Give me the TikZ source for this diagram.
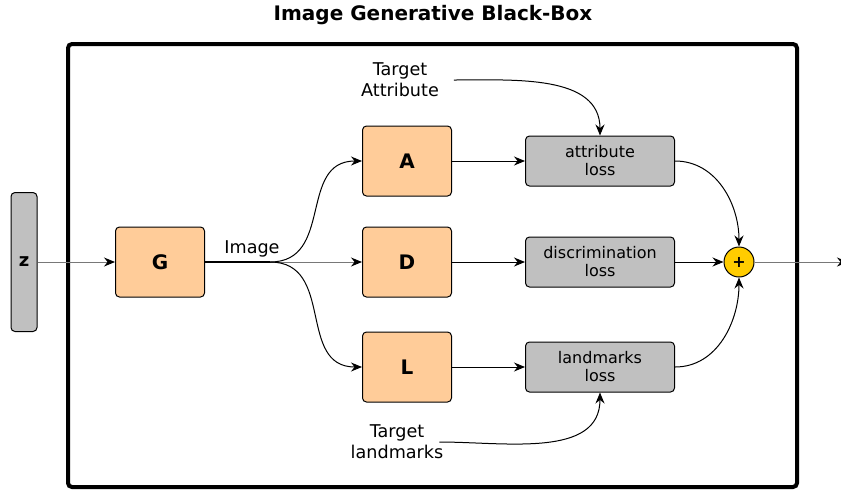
\documentclass[tikz,border=0pt]{standalone}
\usepackage{fontspec}
\setmainfont{DejaVu Sans}
\usepackage{xcolor}
\definecolor{genfill}{RGB}{255, 204, 153}
\definecolor{lossfill}{RGB}{192, 192, 192}
\definecolor{sumfill}{RGB}{255, 204, 0}
\definecolor{wire}{RGB}{120, 120, 120}
\usepackage{tikz}
\usetikzlibrary{arrows.meta}

\begin{document}
\begin{tikzpicture}[x=0.5pt, y=-0.5pt,
    >={Stealth[length=5.5pt, width=4.5pt, color=black]},
    genbox/.style={draw, line width=0.5pt, fill=genfill, rounded corners=2pt, minimum width=44.5pt, minimum height=35pt, font=\fontsize{10}{12}\selectfont\bfseries},
    lossbox/.style={draw, line width=0.5pt, fill=lossfill, rounded corners=2pt, minimum width=74.5pt, minimum height=25pt, inner sep=1pt, align=center, font=\fontsize{8}{9}\selectfont},
    lbl/.style={align=center, font=\fontsize{8.8}{10.5}\selectfont},
    link/.style={->, line width=0.5pt}]
    \useasboundingbox (0, 0) rectangle (841, 489);

    % Title and frame
    \node[font=\fontsize{10}{12}\selectfont\bfseries] (title) at (433, 15) {Image Generative Black-Box};
    \draw[line width=2pt, rounded corners=2pt] (68, 44) rectangle (797, 487);

    % Input
    \node[draw, line width=0.5pt, fill=lossfill, rounded corners=2pt, minimum width=13pt, minimum height=69.5pt, inner sep=0pt, font=\fontsize{9}{11}\selectfont\bfseries] (z) at (24, 262) {z};

    % Networks
    \node[genbox] (G) at (160, 262) {G};
    \node[genbox] (A) at (407, 161) {A};
    \node[genbox] (D) at (407, 262) {D};
    \node[genbox] (L) at (407, 367) {L};

    % Losses
    \node[lossbox] (al) at (600, 161) {attribute\\loss};
    \node[lossbox] (dl) at (600, 262) {discrimination\\loss};
    \node[lossbox] (ll) at (600, 367) {landmarks\\loss};
    \node[draw, line width=0.5pt, circle, fill=sumfill, minimum size=15pt, inner sep=0pt, font=\fontsize{8}{10}\selectfont\bfseries] (sum) at (739, 262) {+};

    % Targets
    \node[lbl] (ta) at (400, 80) {Target\\Attribute};
    \node[lbl] (tl) at (397, 442) {Target\\landmarks};
    \node[lbl, anchor=south] (img) at (252, 264) {Image};

    \coordinate (split) at (270, 262);
    \coordinate (out) at (848, 262);

    % Connectors
    \draw[link, wire] (z) -- (G);
    \draw[line width=0.6pt] (G) -- (split);
    \draw[link, wire] (split) -- (D);
    \draw[link] (split) to[out=0, in=180, looseness=1.2] (A);
    \draw[link] (split) to[out=0, in=180, looseness=1.2] (L);
    \draw[link] (A) -- (al);
    \draw[link] (D) -- (dl);
    \draw[link] (L) -- (ll);
    \draw[link] ([xshift=4pt]ta.east) to[out=0, in=90] (al);
    \draw[link] ([xshift=-5.5pt]tl.east) to[out=0, in=-90] (ll);
    \draw[link] (al) to[out=0, in=90] (sum);
    \draw[link] (dl) -- (sum);
    \draw[link] (ll) to[out=0, in=-90] (sum);
    \draw[link, wire] (sum) -- (out);
\end{tikzpicture}
\end{document}
